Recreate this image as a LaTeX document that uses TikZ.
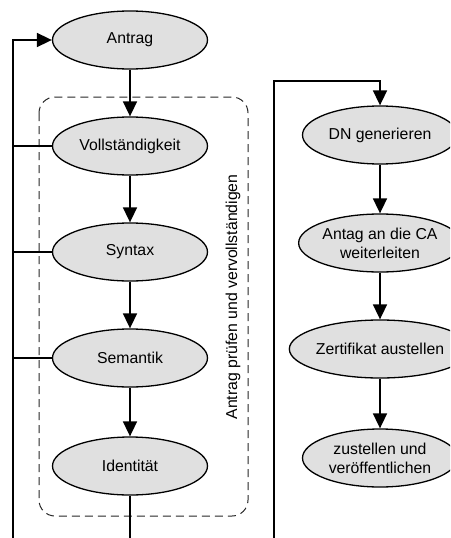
\documentclass[tikz,border=0pt]{standalone}
\usepackage{fontspec}
\setmainfont{Liberation Sans}
\usetikzlibrary{arrows.meta,shapes.geometric}
\begin{document}
\begin{tikzpicture}[x=1pt,y=-1pt,
  proc/.style={ellipse, draw, line width=1.3pt, fill=black!12, minimum width=155pt, minimum height=58pt, inner sep=0pt, align=center, font=\fontsize{15.8}{19}\selectfont},
  conn/.style={line width=1.7pt},
  arr/.style={conn, -{Triangle[length=15pt,width=14pt]}},
  grp/.style={draw=black!85, dash pattern=on 8pt off 5pt, line width=1pt, rounded corners=16pt}]
\useasboundingbox (0,0) rectangle (450,538);
\clip (0,0) rectangle (450,538);
% group box
\draw[grp] (39,97) rectangle (248,516);
\node[rotate=90, font=\fontsize{15.8}{19}\selectfont] (lbl) at (233,297) {Antrag prüfen und vervollständigen};
% left column
\node[proc] (antrag) at (130,40) {Antrag};
\node[proc] (voll) at (130,146) {Vollständigkeit};
\node[proc] (syn) at (130,252) {Syntax};
\node[proc] (sem) at (130,358) {Semantik};
\node[proc] (ident) at (130,466) {Identität};
% right column
\node[proc] (dn) at (380,135) {DN generieren};
\node[proc] (ca) at (380,243) {Antag an die CA\\weiterleiten};
\node[proc] (zert) at (380,349) {Zertifikat austellen};
\node[proc] (zust) at (380,458) {zustellen und\\veröffentlichen};
% coordinates
\coordinate (lb) at (13,538);
\coordinate (lt) at (13,40);
\coordinate (ib) at (130,538);
\coordinate (rb) at (274,538);
\coordinate (rt) at (274,81);
\coordinate (rc) at (380,81);
% left connectors
\draw[arr] (antrag) -- (voll);
\draw[arr] (voll) -- (syn);
\draw[arr] (syn) -- (sem);
\draw[arr] (sem) -- (ident);
\draw[conn] (ident) -- (ib);
\draw[arr] (lb) -- (lt) -- (antrag.west);
\draw[conn] (voll.west) -- (voll.west -| lb);
\draw[conn] (syn.west) -- (syn.west -| lb);
\draw[conn] (sem.west) -- (sem.west -| lb);
% right connectors
\draw[arr] (rb) -- (rt) -- (rc) -- (dn.north);
\draw[arr] (dn) -- (ca);
\draw[arr] (ca) -- (zert);
\draw[arr] (zert) -- (zust);
\end{tikzpicture}
\end{document}
